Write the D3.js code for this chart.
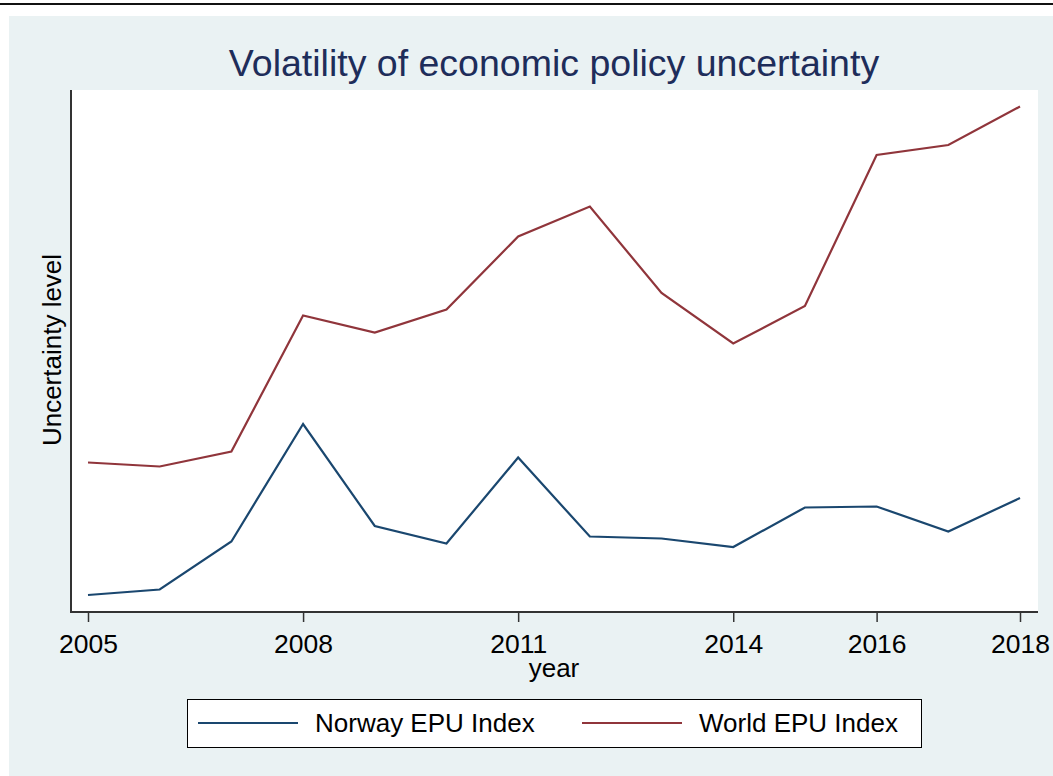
<!DOCTYPE html>
<html>
<head>
<meta charset="utf-8">
<script src="https://cdn.jsdelivr.net/npm/d3@7"></script>
<style>
  body { margin: 0; background: #fff; }
  svg { display: block; font-family: "Liberation Sans", Arial, sans-serif; }
</style>
</head>
<body>
<div class="canvas"></div>
<script>
// ---- data (arbitrary uncertainty units) ----
const years = [2005, 2006, 2007, 2008, 2009, 2010, 2011, 2012, 2013, 2014, 2015, 2016, 2017, 2018];
const norway = [3.4, 4.5, 14.1, 37.6, 17.2, 13.7, 30.9, 15.1, 14.7, 13.0, 20.9, 21.1, 16.1, 22.8];
const world = [29.9, 29.1, 32.1, 59.3, 55.9, 60.5, 75.1, 81.1, 63.8, 53.7, 61.2, 91.4, 93.4, 101.1];
const xTicks = [2005, 2008, 2011, 2014, 2016, 2018];
const seriesNames = ['Norway EPU Index', 'World EPU Index'];
const seriesColors = ['#1a476f', '#90353b'];

// overall size
const W = 1053, H = 776;

// plot region edges
const plot = { left: 71, right: 1038, top: 90, bottom: 612 };

const svg = d3.select('.canvas')
    .append('svg')
    .attr('width', W)
    .attr('height', H);

// thin rule at the very top
svg.append('rect')
    .attr('x', 0).attr('y', 3)
    .attr('width', W).attr('height', 2)
    .attr('fill', '#111');

// graph region (stata-ish light blue)
svg.append('rect')
    .attr('x', 9).attr('y', 16)
    .attr('width', W - 9).attr('height', H - 16)
    .attr('fill', '#eaf2f3');

// plot region
svg.append('rect')
    .attr('x', plot.left).attr('y', plot.top)
    .attr('width', plot.right - plot.left)
    .attr('height', plot.bottom - plot.top)
    .attr('fill', '#fff');

// scales
const x = d3.scaleLinear()
    .domain([2005, 2018])
    .range([88, 1020]);

const y = d3.scaleLinear()
    .domain([0, 104.4])
    .range([plot.bottom, plot.top]);

// lines
const line = d3.line()
    .x((d, i) => x(years[i]))
    .y(d => y(d));

[norway, world].forEach((s, k) => {
    svg.append('path')
        .datum(s)
        .attr('fill', 'none')
        .attr('stroke', seriesColors[k])
        .attr('stroke-width', 2.2)
        .attr('stroke-linejoin', 'miter')
        .attr('d', line);
});

// axes lines
svg.append('line')
    .attr('x1', plot.left).attr('x2', plot.left)
    .attr('y1', plot.top).attr('y2', plot.bottom + 1)
    .attr('stroke', '#333').attr('stroke-width', 2);
svg.append('line')
    .attr('x1', plot.left).attr('x2', plot.right)
    .attr('y1', plot.bottom).attr('y2', plot.bottom)
    .attr('stroke', '#333').attr('stroke-width', 2);

// x axis ticks + labels
const xAxis = d3.axisBottom(x)
    .tickValues(xTicks)
    .tickFormat(d3.format('d'))
    .tickSize(10)
    .tickPadding(12);

const gx = svg.append('g')
    .attr('transform', `translate(0, ${plot.bottom})`)
    .call(xAxis);
gx.select('.domain').remove();
gx.selectAll('.tick line').attr('stroke', '#333').attr('stroke-width', 1.5);
gx.selectAll('.tick text')
    .attr('fill', '#000')
    .attr('font-size', 26.5)
    .attr('font-family', '"Liberation Sans", Arial, sans-serif');

// title
svg.append('text')
    .attr('x', 554).attr('y', 76)
    .attr('text-anchor', 'middle')
    .attr('font-size', 37.5)
    .attr('fill', '#1e2d5a')
    .text('Volatility of economic policy uncertainty');

// axis titles
svg.append('text')
    .attr('x', 554).attr('y', 677)
    .attr('text-anchor', 'middle')
    .attr('font-size', 26)
    .attr('fill', '#000')
    .text('year');

svg.append('text')
    .attr('transform', 'translate(61, 350) rotate(-90)')
    .attr('text-anchor', 'middle')
    .attr('font-size', 26)
    .attr('fill', '#000')
    .text('Uncertainty level');

// legend
const legend = svg.append('g');
legend.append('rect')
    .attr('x', 187.5).attr('y', 699.5)
    .attr('width', 734).attr('height', 48)
    .attr('fill', '#fff')
    .attr('stroke', '#000').attr('stroke-width', 1);

const legX = [198, 582];
seriesNames.forEach((name, k) => {
    legend.append('line')
        .attr('x1', legX[k]).attr('x2', legX[k] + 100)
        .attr('y1', 723).attr('y2', 723)
        .attr('stroke', seriesColors[k])
        .attr('stroke-width', 2.2);
    legend.append('text')
        .attr('x', legX[k] + 117).attr('y', 732)
        .attr('font-size', 26)
        .attr('fill', '#000')
        .text(name);
});
</script>
</body>
</html>
